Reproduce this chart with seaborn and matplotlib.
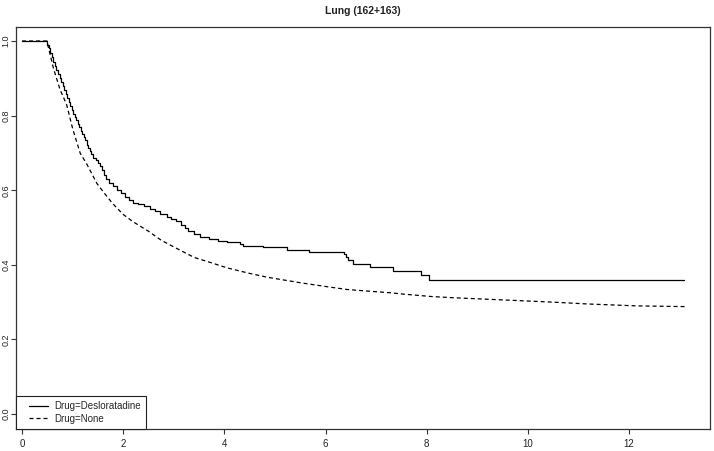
import numpy as np
import pandas as pd
import matplotlib
matplotlib.use("Agg")
import matplotlib.pyplot as plt
import seaborn as sns
from matplotlib.lines import Line2D
from matplotlib.legend_handler import HandlerLine2D

# ---- data ----
title = "Lung (162+163)"
labels = ["Drug=Desloratadine", "Drug=None"]

# Desloratadine: step function (time of drop, survival after the drop)
deslo_time = [0.00, 0.50, 0.53, 0.56, 0.59, 0.62, 0.65, 0.68, 0.71, 0.74, 0.77,
              0.80, 0.83, 0.86, 0.89, 0.92, 0.95, 0.98, 1.01, 1.04, 1.07, 1.10,
              1.13, 1.16, 1.19, 1.22, 1.25, 1.28, 1.31, 1.34, 1.37, 1.41, 1.47,
              1.51, 1.55, 1.59, 1.62, 1.65, 1.72, 1.80, 1.88, 1.95, 2.03, 2.12,
              2.20, 2.30, 2.42, 2.53, 2.62, 2.72, 2.86, 2.95, 3.05, 3.15, 3.22,
              3.29, 3.40, 3.52, 3.70, 3.88, 4.05, 4.31, 4.36, 4.77, 5.23, 5.68,
              6.36, 6.40, 6.45, 6.54, 6.88, 7.34, 7.88, 8.04, 13.08]
deslo_surv = [1.000, 0.990, 0.980, 0.968, 0.957, 0.945, 0.934, 0.922, 0.911, 0.900, 0.890,
              0.879, 0.868, 0.857, 0.847, 0.836, 0.826, 0.815, 0.805, 0.796, 0.787, 0.778,
              0.769, 0.760, 0.752, 0.744, 0.734, 0.722, 0.712, 0.705, 0.697, 0.686, 0.680,
              0.672, 0.664, 0.654, 0.642, 0.630, 0.620, 0.610, 0.600, 0.592, 0.582, 0.574,
              0.566, 0.562, 0.558, 0.550, 0.545, 0.535, 0.527, 0.522, 0.518, 0.508, 0.498,
              0.490, 0.482, 0.475, 0.470, 0.465, 0.460, 0.455, 0.451, 0.447, 0.441, 0.434,
              0.428, 0.420, 0.413, 0.402, 0.394, 0.383, 0.372, 0.359, 0.359]

# None: many small steps, read as a smooth trace
none_time = [0.00, 0.49, 0.62, 0.75, 0.88, 1.00, 1.15, 1.28, 1.48, 1.65, 1.80,
             2.00, 2.20, 2.50, 2.75, 3.00, 3.40, 3.80, 4.05, 4.50, 4.84, 5.50,
             6.00, 6.42, 6.80, 7.30, 7.50, 8.10, 8.50, 9.00, 9.50, 10.00, 10.50,
             11.20, 12.15, 13.14]
none_surv = [1.000, 1.000, 0.927, 0.870, 0.830, 0.765, 0.699, 0.670, 0.618, 0.588, 0.563,
             0.535, 0.515, 0.490, 0.466, 0.448, 0.420, 0.403, 0.392, 0.377, 0.367, 0.352,
             0.342, 0.334, 0.330, 0.325, 0.322, 0.315, 0.312, 0.309, 0.306, 0.303, 0.300,
             0.295, 0.290, 0.288]

x_ticks = [0, 2, 4, 6, 8, 10, 12]
y_ticks = [0.0, 0.2, 0.4, 0.6, 0.8, 1.0]

# ---- styling ----
sns.set_theme(style="white")
plt.rcParams["font.family"] = ["Liberation Sans", "DejaVu Sans"]

fig = plt.figure(figsize=(7.14, 4.51), dpi=100)
ax = fig.add_axes([16/714, 22/451, (710-16)/714, (429-27)/451])

df_d = pd.DataFrame({"time": deslo_time, "surv": deslo_surv})
df_n = pd.DataFrame({"time": none_time, "surv": none_surv})

sns.lineplot(data=df_d, x="time", y="surv", ax=ax, color="black", lw=0.9,
             estimator=None, sort=False, drawstyle="steps-post", label=labels[0])
sns.lineplot(data=df_n, x="time", y="surv", ax=ax, color="black", lw=0.9,
             estimator=None, sort=False, label=labels[1])
ax.lines[1].set_dashes((3.2, 2.4))

ax.set_xlim(-0.12, 13.6)
ax.set_ylim(-0.04, 1.0375)
ax.set_xticks(x_ticks)
ax.set_xticklabels([str(t) for t in x_ticks])
ax.set_yticks(y_ticks)
ax.set_yticklabels([f"{t:.1f}" for t in y_ticks], rotation=90, va="center")
ax.set_xlabel("")
ax.set_ylabel("")
ax.tick_params(axis="both", direction="out", length=3.5, width=0.8, color="#333333",
               labelcolor="#222222", bottom=True, left=True)
ax.tick_params(axis="x", labelsize=7, pad=3.5)
ax.tick_params(axis="y", labelsize=6.5, pad=0.6)
for sp in ax.spines.values():
    sp.set_color("#333333")
    sp.set_linewidth(0.9)

ax.set_title(title, fontsize=7.5, fontweight="bold", pad=9, color="#222222")

handles = ax.lines[:2]
leg = ax.legend(handles, labels, loc="lower left", borderaxespad=0, fontsize=7,
                frameon=True, fancybox=False, edgecolor="#222222", framealpha=1,
                handlelength=2.7, handletextpad=0.7, labelspacing=0.25,
                borderpad=0.55,
                handler_map={Line2D: HandlerLine2D(xpad=0.83)})
leg.get_frame().set_linewidth(0.8)

fig.savefig("out.png", dpi=100, facecolor="white")
